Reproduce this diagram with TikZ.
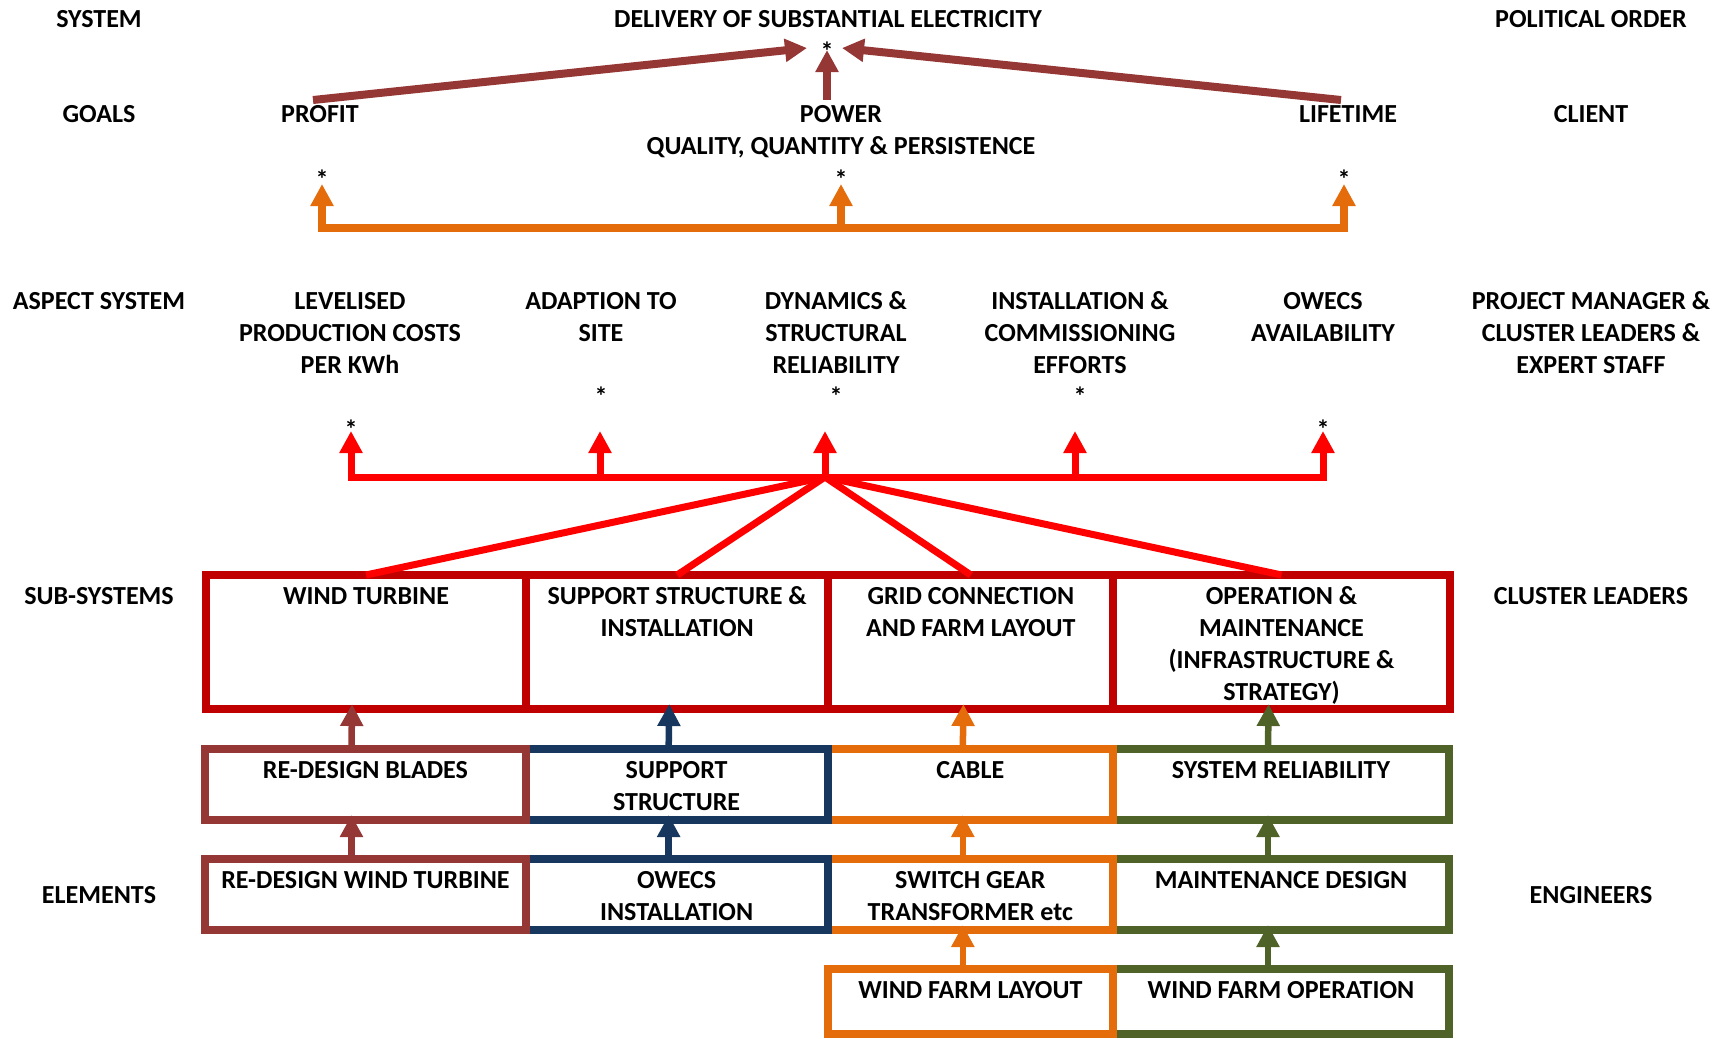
\documentclass[tikz,border=0pt]{standalone}
\usepackage{fontspec}
\setmainfont{Carlito}
\usetikzlibrary{arrows.meta,positioning}

\definecolor{boxred}{HTML}{C00000}
\definecolor{linkred}{HTML}{FF0000}
\definecolor{brn}{HTML}{953735}
\definecolor{navy}{HTML}{17375E}
\definecolor{orng}{HTML}{E46C0A}
\definecolor{olive}{HTML}{4F6228}

\tikzset{
    lbl/.style={inner sep=0pt, anchor=north, align=center,
        font=\fontsize{7.4pt}{9.1pt}\selectfont\bfseries},
    ast/.style={inner sep=0pt, font=\fontsize{7.4pt}{9.1pt}\selectfont\bfseries},
    cell/.style={draw=#1, line width=0.8mm, inner sep=0pt, outer sep=0pt,
        minimum height=0.71cm},
    uparr/.style={draw=#1, line width=0.65mm, ->, shorten >=-0.5mm},
    toparr/.style={draw=brn, line width=0.8mm, ->},
    goalline/.style={draw=orng, line width=0.75mm},
    aspline/.style={draw=linkred, line width=0.7mm},
}

\begin{document}
\begin{tikzpicture}[x=0.01cm, y=-0.01cm, >={Triangle[width=2.2mm,length=2.2mm]}]
    \useasboundingbox (0,0) rectangle (1724,1038);

    \node[lbl] (system) at (99,9.5) {SYSTEM};
    \node[lbl] (delivery) at (828,9.5) {DELIVERY OF SUBSTANTIAL ELECTRICITY};
    \node[lbl] (political) at (1591,9.5) {POLITICAL ORDER};
    \node[ast] (topstar) at (827,51) {*};

    \node[lbl] (goals) at (99,104.5) {GOALS};
    \node[lbl] (profit) at (320,104.5) {PROFIT};
    \node[lbl] (power) at (841,104.5) {POWER\\QUALITY, QUANTITY \& PERSISTENCE};
    \node[lbl] (lifetime) at (1348,104.5) {LIFETIME};
    \node[lbl] (client) at (1591,104.5) {CLIENT};
    \node[ast] (profitstar) at (322,179.5) {*};
    \node[ast] (powerstar) at (841,179.5) {*};
    \node[ast] (lifestar) at (1344,179.5) {*};

    \node[lbl] (aspect) at (99,291.5) {ASPECT SYSTEM};
    \node[lbl] (lpc) at (350,291.5) {LEVELISED\\PRODUCTION COSTS\\PER KWh};
    \node[lbl] (adapt) at (601,291.5) {ADAPTION TO\\SITE};
    \node[lbl] (dyn) at (836,291.5) {DYNAMICS \smash{\&}\\STRUCTURAL\\RELIABILITY};
    \node[lbl] (inst) at (1080,291.5) {INSTALLATION \smash{\&}\\COMMISSIONING\\EFFORTS};
    \node[lbl] (avail) at (1323,291.5) {OWECS\\AVAILABILITY};
    \node[lbl] (pm) at (1591,291.5) {PROJECT MANAGER \smash{\&}\\CLUSTER LEADERS \&\\EXPERT STAFF};
    \node[ast] (lpcstar) at (351,429.5) {*};
    \node[ast] (adaptstar) at (601,396.5) {*};
    \node[ast] (dynstar) at (836,396.5) {*};
    \node[ast] (inststar) at (1080,396.5) {*};
    \node[ast] (availstar) at (1323,429.5) {*};

    \node[lbl] (subsys) at (99,586.5) {SUB-SYSTEMS};
    \node[lbl] (cluster) at (1591,586.5) {CLUSTER LEADERS};
    \node[lbl] (elements) at (99,885.5) {ELEMENTS};
    \node[lbl] (engineers) at (1591,885.5) {ENGINEERS};

    \node[cell=boxred, minimum width=3.2cm, minimum height=1.34cm] (wt) at (366,642) {};
    \node[cell=boxred, minimum width=3.02cm, minimum height=1.34cm] (ssi) [right of=wt, node distance=3.11cm] {};
    \node[cell=boxred, minimum width=2.85cm, minimum height=1.34cm] (gcf) [right of=ssi, node distance=2.935cm] {};
    \node[cell=boxred, minimum width=3.36cm, minimum height=1.34cm] (om) [right of=gcf, node distance=3.105cm] {};

    \node[cell=olive, minimum width=3.36cm] (sr) at (1281,784.5) {};
    \node[cell=orng, minimum width=2.85cm] (cable) [left of=sr, node distance=3.105cm] {};
    \node[cell=navy, minimum width=3.02cm] (sup) [left of=cable, node distance=2.935cm] {};
    \node[cell=brn, minimum width=3.2cm] (rb) [left of=sup, node distance=3.11cm] {};

    \node[cell=olive, minimum width=3.36cm] (md) at (1281,894.5) {};
    \node[cell=orng, minimum width=2.85cm] (sgt) [left of=md, node distance=3.105cm] {};
    \node[cell=navy, minimum width=3.02cm] (owi) [left of=sgt, node distance=2.935cm] {};
    \node[cell=brn, minimum width=3.2cm] (rwt) [left of=owi, node distance=3.11cm] {};

    \node[cell=olive, minimum width=3.36cm, minimum height=0.65cm] (wfo) at (1281,1001.5) {};
    \node[cell=orng, minimum width=2.85cm, minimum height=0.65cm] (wfl) [left of=wfo, node distance=3.105cm] {};

    \node[lbl] (wtT) [below=1.15mm of wt.north] {WIND TURBINE};
    \node[lbl] (ssiT) [below=1.15mm of ssi.north] {SUPPORT STRUCTURE \smash{\&}\\INSTALLATION};
    \node[lbl] (gcfT) [below=1.15mm of gcf.north] {GRID CONNECTION\\AND FARM LAYOUT};
    \node[lbl] (omT) [below=1.15mm of om.north] {OPERATION \smash{\&}\\MAINTENANCE\\(INFRASTRUCTURE \&\\STRATEGY)};
    \node[lbl] (rbT) [below=1.15mm of rb.north] {RE-DESIGN BLADES};
    \node[lbl] (supT) [below=1.15mm of sup.north] {SUPPORT\\STRUCTURE};
    \node[lbl] (cableT) [below=1.15mm of cable.north] {CABLE};
    \node[lbl] (srT) [below=1.15mm of sr.north] {SYSTEM RELIABILITY};
    \node[lbl] (rwtT) [below=1.15mm of rwt.north] {RE-DESIGN WIND TURBINE};
    \node[lbl] (owiT) [below=1.15mm of owi.north] {OWECS\\INSTALLATION};
    \node[lbl] (sgtT) [below=1.15mm of sgt.north] {SWITCH GEAR\\TRANSFORMER etc};
    \node[lbl] (mdT) [below=1.15mm of md.north] {MAINTENANCE DESIGN};
    \node[lbl] (wflT) [below=1.15mm of wfl.north] {WIND FARM LAYOUT};
    \node[lbl] (wfoT) [below=1.15mm of wfo.north] {WIND FARM OPERATION};

    \draw[toparr] ([xshift=-0.7mm,yshift=0.45mm]profit.north) -- ([xshift=-2mm,yshift=0.3mm]topstar.center);
    \draw[toparr, shorten <=0.45mm] (topstar |- power.north) -- ([yshift=0.1mm]topstar.center);
    \draw[toparr] ([xshift=-0.7mm,yshift=0.45mm]lifetime.north) -- ([xshift=1.5mm,yshift=0.3mm]topstar.center);

    \coordinate (gbus) at (841,228);
    \draw[goalline, <->] ([yshift=-0.45mm]profitstar.center) |- (gbus) -| ([yshift=-0.45mm]lifestar.center);
    \draw[goalline, ->] (gbus) -- ([yshift=-0.45mm]powerstar.center);

    \coordinate (hub) at (825,477);
    \coordinate (adapttip) at (600,431);
    \coordinate (dyntip) at (825,431);
    \coordinate (insttip) at (1075,431);
    \draw[aspline, <->] ([yshift=-0.15mm]lpcstar.center) |- (hub) -| ([yshift=-0.15mm]availstar.center);
    \draw[aspline, ->] (adapttip |- hub) -- (adapttip);
    \draw[aspline, ->] (hub) -- (dyntip);
    \draw[aspline, ->] (insttip |- hub) -- (insttip);
    \draw[aspline] (hub) -- (wt.north);
    \draw[aspline] (hub) -- (ssi.north);
    \draw[aspline] (hub) -- (gcf.north);
    \draw[aspline] (hub) -- (om.north);

    \draw[uparr=brn] ([xshift=-1.4mm]rb.north) -- ([xshift=-1.4mm]wt.south);
    \draw[uparr=navy] ([xshift=-0.8mm]sup.north) -- ([xshift=-0.8mm]ssi.south);
    \draw[uparr=orng] ([xshift=-0.75mm]cable.north) -- ([xshift=-0.75mm]gcf.south);
    \draw[uparr=olive] ([xshift=-1.3mm]sr.north) -- ([xshift=-1.3mm]om.south);
    \draw[uparr=brn] ([xshift=-1.4mm]rwt.north) -- ([xshift=-1.4mm]rb.south);
    \draw[uparr=navy] ([xshift=-0.8mm]owi.north) -- ([xshift=-0.8mm]sup.south);
    \draw[uparr=orng] ([xshift=-0.75mm]sgt.north) -- ([xshift=-0.75mm]cable.south);
    \draw[uparr=olive] ([xshift=-1.3mm]md.north) -- ([xshift=-1.3mm]sr.south);
    \draw[uparr=orng] ([xshift=-0.75mm]wfl.north) -- ([xshift=-0.75mm]sgt.south);
    \draw[uparr=olive] ([xshift=-1.3mm]wfo.north) -- ([xshift=-1.3mm]md.south);
\end{tikzpicture}
\end{document}
